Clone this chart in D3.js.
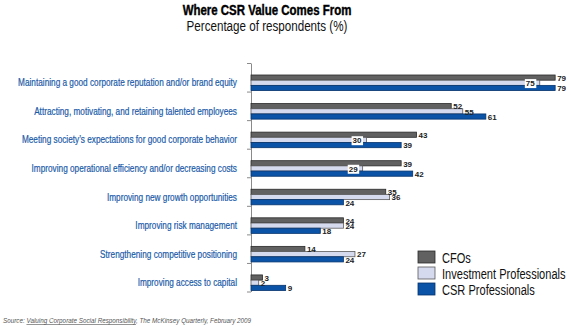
<!DOCTYPE html>
<html>
<head>
<meta charset="utf-8">
<script src="https://cdn.jsdelivr.net/npm/d3@7"></script>
<style>
  body { margin: 0; background: #fff; }
  svg { display: block; }
</style>
</head>
<body>
<div id="chart"></div>
<script>
const categories = [
    'Maintaining a good corporate reputation and/or brand equity',
    'Attracting, motivating, and retaining talented employees',
    'Meeting society\u2019s expectations for good corporate behavior',
    'Improving operational efficiency and/or decreasing costs',
    'Improving new growth opportunities',
    'Improving risk management',
    'Strengthening competitive positioning',
    'Improving access to capital'
]
const series = ['CFOs', 'Investment Professionals', 'CSR Professionals']
const cfos = [79, 52, 43, 39, 35, 24, 14, 3]
const investors = [75, 55, 30, 29, 36, 24, 27, 2]
const csr = [79, 61, 39, 42, 24, 18, 24, 9]

const values = [cfos, investors, csr]
const fills = ['#616161', '#d6daef', '#0b53a6']
const strokes = ['#2a2a2a', '#5a5a5a', '#07346e']
const sans = '"Liberation Sans", Arial, sans-serif'

const width = 571, height = 327
const margin = ({ top: 63, left: 251, bottom: 36 })

// squeeze text horizontally to mimic the condensed face of the original
const squeeze = (sel, k) => sel.each(function() {
    const w = this.getComputedTextLength()
    d3.select(this)
        .attr('textLength', w * k)
        .attr('lengthAdjust', 'spacingAndGlyphs')
})

const svg = d3.select('#chart').append('svg')
    .attr('width', width)
    .attr('height', height)

const x = d3.scaleLinear()
    .domain([0, 100])
    .range([margin.left, margin.left + 385])
const y = d3.scaleBand()
    .domain(categories)
    .range([margin.top, height - margin.bottom + 0.5])
const bw = y.bandwidth()
const ySub = d3.scaleBand()
    .domain(series)
    .range([bw * 0.42, bw * 0.965])

// title
svg.append('text')
    .attr('x', 267).attr('y', 15)
    .attr('text-anchor', 'middle')
    .attr('font-family', sans)
    .attr('font-weight', 'bold')
    .attr('font-size', 14.5)
    .attr('fill', '#000')
    .attr('stroke', '#000')
    .attr('stroke-width', 0.4)
    .text('Where CSR Value Comes From')
    .call(squeeze, 0.79)
svg.append('text')
    .attr('x', 267).attr('y', 31)
    .attr('text-anchor', 'middle')
    .attr('font-family', sans)
    .attr('font-size', 14)
    .attr('fill', '#111')
    .text('Percentage of respondents (%)')
    .call(squeeze, 0.83)

// axis with ticks on band edges
const edge = d3.scaleLinear()
    .domain([0, categories.length])
    .range(y.range())
svg.append('g')
    .attr('transform', `translate(${margin.left},0)`)
    .call(d3.axisLeft(edge).ticks(categories.length).tickFormat('').tickSize(4).tickSizeOuter(0))
    .call(g => g.selectAll('line, path').attr('stroke', '#8a8a8a'))

// category labels
svg.append('g').selectAll('text')
    .data(categories)
    .join('text')
    .attr('x', 237)
    .attr('y', d => y(d) + bw * 0.69)
    .attr('dy', '0.35em')
    .attr('text-anchor', 'end')
    .attr('font-family', sans)
    .attr('font-size', 10.3)
    .attr('fill', '#1a5aa8')
    .attr('stroke', '#1a5aa8')
    .attr('stroke-width', 0.2)
    .text(d => d)
    .call(squeeze, 0.8)

// bars
const groups = svg.append('g').selectAll('g')
    .data(categories)
    .join('g')
    .attr('transform', d => `translate(0,${y(d)})`)

series.forEach((s, si) => {
    groups.append('rect')
        .attr('x', x(0))
        .attr('y', ySub(s))
        .attr('width', (d, i) => x(values[si][i]) - x(0))
        .attr('height', ySub.bandwidth())
        .attr('fill', fills[si])
        .attr('stroke', strokes[si])
        .attr('stroke-width', 0.8)
})

// value labels
series.forEach((s, si) => {
    groups.each(function(d, i) {
        const v = values[si][i]
        const g = d3.select(this)
        const yc = ySub(s) + ySub.bandwidth() / 2
        const inside = si === 1 && v > 5 && v < cfos[i] && v < csr[i]
        const t = g.append('text')
            .attr('y', yc + 0.5)
            .attr('dy', '0.35em')
            .attr('font-family', sans)
            .attr('font-weight', 'bold')
            .attr('font-size', 8)
            .attr('fill', '#222')
            .text(v)
        if (inside) {
            t.attr('x', x(v) - 5).attr('text-anchor', 'end')
            const b = t.node().getBBox()
            g.insert('rect', 'text')
                .attr('x', b.x - 1).attr('y', b.y)
                .attr('width', b.width + 2).attr('height', b.height)
                .attr('fill', '#fff')
            t.raise()
        } else {
            t.attr('x', x(v) + 2)
        }
    })
})

// legend
const legend = svg.append('g').selectAll('g')
    .data(series)
    .join('g')
    .attr('transform', (d, i) => `translate(418,${251 + i * 16})`)
legend.append('rect')
    .attr('width', 17).attr('height', 12)
    .attr('fill', (d, i) => fills[i])
    .attr('stroke', (d, i) => strokes[i])
    .attr('stroke-width', 0.8)
legend.append('text')
    .attr('x', 24).attr('y', 6.5)
    .attr('dy', '0.38em')
    .attr('font-family', sans)
    .attr('font-size', 14)
    .attr('fill', '#111')
    .text(d => d)
    .call(squeeze, 0.79)

// source
const src = svg.append('text')
    .attr('x', 3).attr('y', 323)
    .attr('font-family', sans)
    .attr('font-style', 'italic')
    .attr('font-size', 6.3)
    .attr('fill', '#555')
src.append('tspan').text('Source: ')
src.append('tspan').attr('text-decoration', 'underline').text('Valuing Corporate Social Responsibility')
src.append('tspan').text(', The McKinsey Quarterly, February 2009')
</script>
</body>
</html>
